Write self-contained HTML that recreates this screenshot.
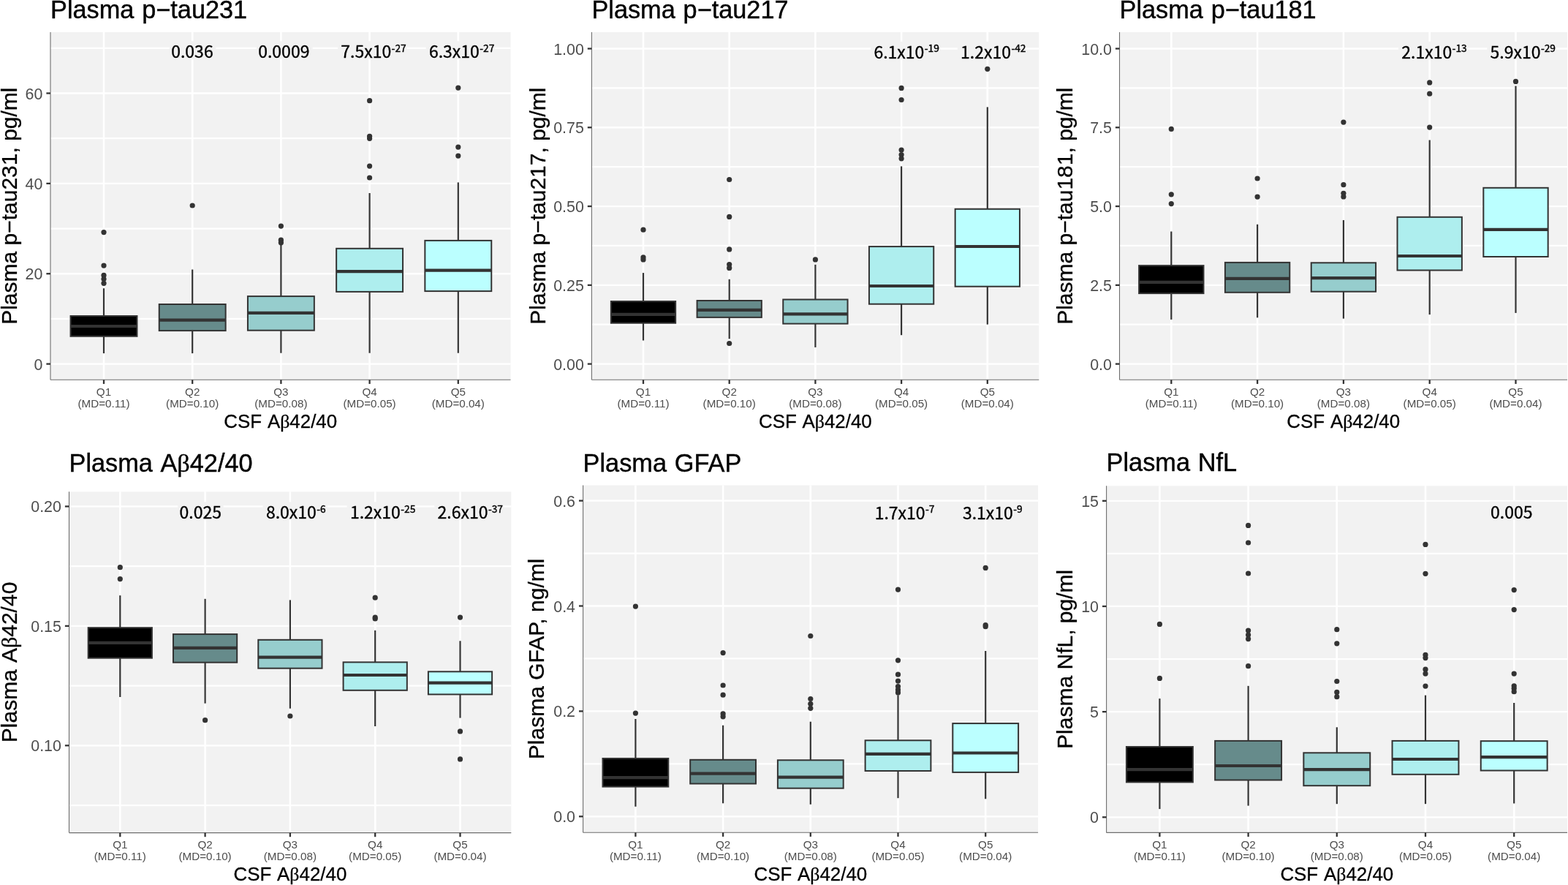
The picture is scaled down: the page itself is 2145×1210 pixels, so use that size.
<!DOCTYPE html>
<html><head><meta charset="utf-8"><title>Plasma biomarkers by CSF Abeta42/40 quintile</title>
<style>html,body{margin:0;padding:0;background:#fff;overflow:hidden;}svg{display:block;}</style>
</head><body>
<svg width="2145" height="1210" viewBox="0 0 2145 1210">
<rect x="0" y="0" width="2145" height="1210" fill="#FFFFFF"/>
<rect x="69" y="44" width="629.5" height="475.3" fill="#F2F2F2"/>
<line x1="69" x2="698.5" y1="435.92" y2="435.92" stroke="#FFFFFF" stroke-width="2.2"/>
<line x1="69" x2="698.5" y1="312.55" y2="312.55" stroke="#FFFFFF" stroke-width="2.2"/>
<line x1="69" x2="698.5" y1="189.18" y2="189.18" stroke="#FFFFFF" stroke-width="2.2"/>
<line x1="69" x2="698.5" y1="65.82" y2="65.82" stroke="#FFFFFF" stroke-width="2.2"/>
<line x1="69" x2="698.5" y1="497.6" y2="497.6" stroke="#FFFFFF" stroke-width="2.3"/>
<line x1="69" x2="698.5" y1="374.23" y2="374.23" stroke="#FFFFFF" stroke-width="2.3"/>
<line x1="69" x2="698.5" y1="250.87" y2="250.87" stroke="#FFFFFF" stroke-width="2.3"/>
<line x1="69" x2="698.5" y1="127.5" y2="127.5" stroke="#FFFFFF" stroke-width="2.3"/>
<line x1="142" x2="142" y1="44" y2="519.3" stroke="#FFFFFF" stroke-width="2.6"/>
<line x1="263.2" x2="263.2" y1="44" y2="519.3" stroke="#FFFFFF" stroke-width="2.6"/>
<line x1="384.4" x2="384.4" y1="44" y2="519.3" stroke="#FFFFFF" stroke-width="2.6"/>
<line x1="505.6" x2="505.6" y1="44" y2="519.3" stroke="#FFFFFF" stroke-width="2.6"/>
<line x1="626.8" x2="626.8" y1="44" y2="519.3" stroke="#FFFFFF" stroke-width="2.6"/>
<line x1="142" x2="142" y1="394.2" y2="432" stroke="#333333" stroke-width="2.2"/>
<line x1="142" x2="142" y1="459.8" y2="483.1" stroke="#333333" stroke-width="2.2"/>
<rect x="96.55" y="432" width="90.9" height="27.8" fill="#000000" stroke="#333333" stroke-width="2.0"/>
<line x1="96.55" x2="187.45" y1="446" y2="446" stroke="#333333" stroke-width="4.2"/>
<circle cx="142" cy="317.6" r="3.6" fill="#333333"/>
<circle cx="142" cy="363.1" r="3.6" fill="#333333"/>
<circle cx="142" cy="376.4" r="3.6" fill="#333333"/>
<circle cx="142" cy="381.5" r="3.6" fill="#333333"/>
<circle cx="142" cy="387.3" r="3.6" fill="#333333"/>
<line x1="263.2" x2="263.2" y1="368.5" y2="416" stroke="#333333" stroke-width="2.2"/>
<line x1="263.2" x2="263.2" y1="452.1" y2="483.1" stroke="#333333" stroke-width="2.2"/>
<rect x="217.75" y="416" width="90.9" height="36.1" fill="#668B8B" stroke="#333333" stroke-width="2.0"/>
<line x1="217.75" x2="308.65" y1="437.7" y2="437.7" stroke="#333333" stroke-width="4.2"/>
<circle cx="263.2" cy="281" r="3.6" fill="#333333"/>
<line x1="384.4" x2="384.4" y1="334.5" y2="405.1" stroke="#333333" stroke-width="2.2"/>
<line x1="384.4" x2="384.4" y1="451.7" y2="482.7" stroke="#333333" stroke-width="2.2"/>
<rect x="338.95" y="405.1" width="90.9" height="46.6" fill="#96CDCD" stroke="#333333" stroke-width="2.0"/>
<line x1="338.95" x2="429.85" y1="427.9" y2="427.9" stroke="#333333" stroke-width="4.2"/>
<circle cx="384.4" cy="309.1" r="3.6" fill="#333333"/>
<circle cx="384.4" cy="328.2" r="3.6" fill="#333333"/>
<circle cx="384.4" cy="331.8" r="3.6" fill="#333333"/>
<line x1="505.6" x2="505.6" y1="264" y2="339.8" stroke="#333333" stroke-width="2.2"/>
<line x1="505.6" x2="505.6" y1="398.9" y2="482.7" stroke="#333333" stroke-width="2.2"/>
<rect x="460.15" y="339.8" width="90.9" height="59.1" fill="#AEEEEE" stroke="#333333" stroke-width="2.0"/>
<line x1="460.15" x2="551.05" y1="371.1" y2="371.1" stroke="#333333" stroke-width="4.2"/>
<circle cx="505.6" cy="137.7" r="3.6" fill="#333333"/>
<circle cx="505.6" cy="186.3" r="3.6" fill="#333333"/>
<circle cx="505.6" cy="189.3" r="3.6" fill="#333333"/>
<circle cx="505.6" cy="227.1" r="3.6" fill="#333333"/>
<circle cx="505.6" cy="243" r="3.6" fill="#333333"/>
<line x1="626.8" x2="626.8" y1="249.4" y2="328.9" stroke="#333333" stroke-width="2.2"/>
<line x1="626.8" x2="626.8" y1="398.1" y2="482.7" stroke="#333333" stroke-width="2.2"/>
<rect x="581.35" y="328.9" width="90.9" height="69.2" fill="#BBFFFF" stroke="#333333" stroke-width="2.0"/>
<line x1="581.35" x2="672.25" y1="369.6" y2="369.6" stroke="#333333" stroke-width="4.2"/>
<circle cx="626.8" cy="120.1" r="3.6" fill="#333333"/>
<circle cx="626.8" cy="201.1" r="3.6" fill="#333333"/>
<circle cx="626.8" cy="213.1" r="3.6" fill="#333333"/>
<line x1="69" x2="69" y1="44" y2="519.3" stroke="#6E6E6E" stroke-width="1.1"/>
<line x1="69" x2="698.5" y1="519.3" y2="519.3" stroke="#6E6E6E" stroke-width="1.1"/>
<line x1="63.4" x2="69" y1="497.6" y2="497.6" stroke="#333333" stroke-width="2.3"/>
<line x1="63.4" x2="69" y1="374.23" y2="374.23" stroke="#333333" stroke-width="2.3"/>
<line x1="63.4" x2="69" y1="250.87" y2="250.87" stroke="#333333" stroke-width="2.3"/>
<line x1="63.4" x2="69" y1="127.5" y2="127.5" stroke="#333333" stroke-width="2.3"/>
<line x1="142" x2="142" y1="519.3" y2="524.9" stroke="#333333" stroke-width="2.3"/>
<line x1="263.2" x2="263.2" y1="519.3" y2="524.9" stroke="#333333" stroke-width="2.3"/>
<line x1="384.4" x2="384.4" y1="519.3" y2="524.9" stroke="#333333" stroke-width="2.3"/>
<line x1="505.6" x2="505.6" y1="519.3" y2="524.9" stroke="#333333" stroke-width="2.3"/>
<line x1="626.8" x2="626.8" y1="519.3" y2="524.9" stroke="#333333" stroke-width="2.3"/>
<text x="58.4" y="505.6" text-anchor="end" font-family="'Liberation Sans', Arial, Helvetica, sans-serif" font-size="21.4" fill="#4D4D4D">0</text>
<text x="58.4" y="382.23" text-anchor="end" font-family="'Liberation Sans', Arial, Helvetica, sans-serif" font-size="21.4" fill="#4D4D4D">20</text>
<text x="58.4" y="258.87" text-anchor="end" font-family="'Liberation Sans', Arial, Helvetica, sans-serif" font-size="21.4" fill="#4D4D4D">40</text>
<text x="58.4" y="135.5" text-anchor="end" font-family="'Liberation Sans', Arial, Helvetica, sans-serif" font-size="21.4" fill="#4D4D4D">60</text>
<text x="142" y="540.9" text-anchor="middle" font-family="'Liberation Sans', Arial, Helvetica, sans-serif" font-size="15.2" fill="#4D4D4D">Q1</text>
<text x="142" y="556.9" text-anchor="middle" font-family="'Liberation Sans', Arial, Helvetica, sans-serif" font-size="15.2" fill="#4D4D4D">(MD=0.11)</text>
<text x="263.2" y="540.9" text-anchor="middle" font-family="'Liberation Sans', Arial, Helvetica, sans-serif" font-size="15.2" fill="#4D4D4D">Q2</text>
<text x="263.2" y="556.9" text-anchor="middle" font-family="'Liberation Sans', Arial, Helvetica, sans-serif" font-size="15.2" fill="#4D4D4D">(MD=0.10)</text>
<text x="384.4" y="540.9" text-anchor="middle" font-family="'Liberation Sans', Arial, Helvetica, sans-serif" font-size="15.2" fill="#4D4D4D">Q3</text>
<text x="384.4" y="556.9" text-anchor="middle" font-family="'Liberation Sans', Arial, Helvetica, sans-serif" font-size="15.2" fill="#4D4D4D">(MD=0.08)</text>
<text x="505.6" y="540.9" text-anchor="middle" font-family="'Liberation Sans', Arial, Helvetica, sans-serif" font-size="15.2" fill="#4D4D4D">Q4</text>
<text x="505.6" y="556.9" text-anchor="middle" font-family="'Liberation Sans', Arial, Helvetica, sans-serif" font-size="15.2" fill="#4D4D4D">(MD=0.05)</text>
<text x="626.8" y="540.9" text-anchor="middle" font-family="'Liberation Sans', Arial, Helvetica, sans-serif" font-size="15.2" fill="#4D4D4D">Q5</text>
<text x="626.8" y="556.9" text-anchor="middle" font-family="'Liberation Sans', Arial, Helvetica, sans-serif" font-size="15.2" fill="#4D4D4D">(MD=0.04)</text>
<text x="69" y="25.4" font-family="'Liberation Sans', Arial, Helvetica, sans-serif" font-size="34.3" word-spacing="1.3" fill="#000" stroke="#000" stroke-width="0.4">Plasma p−tau231</text>
<text x="383.75" y="584.8" text-anchor="middle" font-family="'Liberation Sans', Arial, Helvetica, sans-serif" font-size="25.9" fill="#000" stroke="#000" stroke-width="0.3">CSF <tspan dx="2">A</tspan><tspan font-family="'Liberation Serif', serif">β</tspan>42/40</text>
<text transform="translate(22.5,281.65) rotate(-90)" x="0" y="0" text-anchor="middle" font-family="'Liberation Sans', Arial, Helvetica, sans-serif" font-size="30.0" fill="#000" stroke="#000" stroke-width="0.3">Plasma p−tau231, pg/ml</text>
<rect x="231.9" y="56.3" width="63.4" height="24.5" fill="#F2F2F2"/>
<text x="234.2" y="79.3" font-family="'Noto Sans CJK JP', 'Liberation Sans', sans-serif" font-weight="400" font-size="23.0" fill="#000" stroke="#000" stroke-width="0.35">0.036</text>
<rect x="350.9" y="56.3" width="76.7" height="24.5" fill="#F2F2F2"/>
<text x="353.2" y="79.3" font-family="'Noto Sans CJK JP', 'Liberation Sans', sans-serif" font-weight="400" font-size="23.0" fill="#000" stroke="#000" stroke-width="0.35">0.0009</text>
<rect x="462" y="56.3" width="94.4" height="24.5" fill="#F2F2F2"/>
<text x="466.3" y="79.3" font-family="'Noto Sans CJK JP', 'Liberation Sans', sans-serif" font-weight="400" font-size="23.0" fill="#000" stroke="#000" stroke-width="0.35">7.5x10<tspan dx="0.4" dy="-8.6" font-size="13.8">-27</tspan></text>
<rect x="582.6" y="56.3" width="93.9" height="24.5" fill="#F2F2F2"/>
<text x="586.9" y="79.3" font-family="'Noto Sans CJK JP', 'Liberation Sans', sans-serif" font-weight="400" font-size="23.0" fill="#000" stroke="#000" stroke-width="0.35">6.3x10<tspan dx="0.4" dy="-8.6" font-size="13.8">-27</tspan></text>
<rect x="809.4" y="44" width="611.9" height="475.3" fill="#F2F2F2"/>
<line x1="809.4" x2="1421.3" y1="443.71" y2="443.71" stroke="#FFFFFF" stroke-width="2.2"/>
<line x1="809.4" x2="1421.3" y1="335.94" y2="335.94" stroke="#FFFFFF" stroke-width="2.2"/>
<line x1="809.4" x2="1421.3" y1="228.16" y2="228.16" stroke="#FFFFFF" stroke-width="2.2"/>
<line x1="809.4" x2="1421.3" y1="120.39" y2="120.39" stroke="#FFFFFF" stroke-width="2.2"/>
<line x1="809.4" x2="1421.3" y1="497.6" y2="497.6" stroke="#FFFFFF" stroke-width="2.3"/>
<line x1="809.4" x2="1421.3" y1="389.83" y2="389.83" stroke="#FFFFFF" stroke-width="2.3"/>
<line x1="809.4" x2="1421.3" y1="282.05" y2="282.05" stroke="#FFFFFF" stroke-width="2.3"/>
<line x1="809.4" x2="1421.3" y1="174.27" y2="174.27" stroke="#FFFFFF" stroke-width="2.3"/>
<line x1="809.4" x2="1421.3" y1="66.5" y2="66.5" stroke="#FFFFFF" stroke-width="2.3"/>
<line x1="880" x2="880" y1="44" y2="519.3" stroke="#FFFFFF" stroke-width="2.6"/>
<line x1="997.7" x2="997.7" y1="44" y2="519.3" stroke="#FFFFFF" stroke-width="2.6"/>
<line x1="1115.4" x2="1115.4" y1="44" y2="519.3" stroke="#FFFFFF" stroke-width="2.6"/>
<line x1="1233.1" x2="1233.1" y1="44" y2="519.3" stroke="#FFFFFF" stroke-width="2.6"/>
<line x1="1350.8" x2="1350.8" y1="44" y2="519.3" stroke="#FFFFFF" stroke-width="2.6"/>
<line x1="880" x2="880" y1="373.1" y2="412" stroke="#333333" stroke-width="2.2"/>
<line x1="880" x2="880" y1="441.7" y2="465.5" stroke="#333333" stroke-width="2.2"/>
<rect x="835.86" y="412" width="88.28" height="29.7" fill="#000000" stroke="#333333" stroke-width="2.0"/>
<line x1="835.86" x2="924.14" y1="429.8" y2="429.8" stroke="#333333" stroke-width="4.2"/>
<circle cx="880" cy="314.2" r="3.6" fill="#333333"/>
<circle cx="880" cy="351.8" r="3.6" fill="#333333"/>
<circle cx="880" cy="354.9" r="3.6" fill="#333333"/>
<line x1="997.7" x2="997.7" y1="381.8" y2="411" stroke="#333333" stroke-width="2.2"/>
<line x1="997.7" x2="997.7" y1="433.9" y2="463.3" stroke="#333333" stroke-width="2.2"/>
<rect x="953.56" y="411" width="88.28" height="22.9" fill="#668B8B" stroke="#333333" stroke-width="2.0"/>
<line x1="953.56" x2="1041.84" y1="423.9" y2="423.9" stroke="#333333" stroke-width="4.2"/>
<circle cx="997.7" cy="245.5" r="3.6" fill="#333333"/>
<circle cx="997.7" cy="296.4" r="3.6" fill="#333333"/>
<circle cx="997.7" cy="340.9" r="3.6" fill="#333333"/>
<circle cx="997.7" cy="361.5" r="3.6" fill="#333333"/>
<circle cx="997.7" cy="366.4" r="3.6" fill="#333333"/>
<circle cx="997.7" cy="469.5" r="3.6" fill="#333333"/>
<line x1="1115.4" x2="1115.4" y1="361.8" y2="409.5" stroke="#333333" stroke-width="2.2"/>
<line x1="1115.4" x2="1115.4" y1="442.6" y2="474.9" stroke="#333333" stroke-width="2.2"/>
<rect x="1071.26" y="409.5" width="88.28" height="33.1" fill="#96CDCD" stroke="#333333" stroke-width="2.0"/>
<line x1="1071.26" x2="1159.54" y1="429.3" y2="429.3" stroke="#333333" stroke-width="4.2"/>
<circle cx="1115.4" cy="354.9" r="3.6" fill="#333333"/>
<line x1="1233.1" x2="1233.1" y1="227.4" y2="337.1" stroke="#333333" stroke-width="2.2"/>
<line x1="1233.1" x2="1233.1" y1="415.7" y2="458.2" stroke="#333333" stroke-width="2.2"/>
<rect x="1188.96" y="337.1" width="88.28" height="78.6" fill="#AEEEEE" stroke="#333333" stroke-width="2.0"/>
<line x1="1188.96" x2="1277.24" y1="391" y2="391" stroke="#333333" stroke-width="4.2"/>
<circle cx="1233.1" cy="120.4" r="3.6" fill="#333333"/>
<circle cx="1233.1" cy="136.5" r="3.6" fill="#333333"/>
<circle cx="1233.1" cy="205" r="3.6" fill="#333333"/>
<circle cx="1233.1" cy="211.6" r="3.6" fill="#333333"/>
<circle cx="1233.1" cy="216.8" r="3.6" fill="#333333"/>
<line x1="1350.8" x2="1350.8" y1="146.4" y2="285.8" stroke="#333333" stroke-width="2.2"/>
<line x1="1350.8" x2="1350.8" y1="391.7" y2="443.6" stroke="#333333" stroke-width="2.2"/>
<rect x="1306.66" y="285.8" width="88.28" height="105.9" fill="#BBFFFF" stroke="#333333" stroke-width="2.0"/>
<line x1="1306.66" x2="1394.94" y1="337" y2="337" stroke="#333333" stroke-width="4.2"/>
<circle cx="1350.8" cy="94.3" r="3.6" fill="#333333"/>
<line x1="809.4" x2="809.4" y1="44" y2="519.3" stroke="#6E6E6E" stroke-width="1.1"/>
<line x1="809.4" x2="1421.3" y1="519.3" y2="519.3" stroke="#6E6E6E" stroke-width="1.1"/>
<line x1="803.8" x2="809.4" y1="497.6" y2="497.6" stroke="#333333" stroke-width="2.3"/>
<line x1="803.8" x2="809.4" y1="389.83" y2="389.83" stroke="#333333" stroke-width="2.3"/>
<line x1="803.8" x2="809.4" y1="282.05" y2="282.05" stroke="#333333" stroke-width="2.3"/>
<line x1="803.8" x2="809.4" y1="174.27" y2="174.27" stroke="#333333" stroke-width="2.3"/>
<line x1="803.8" x2="809.4" y1="66.5" y2="66.5" stroke="#333333" stroke-width="2.3"/>
<line x1="880" x2="880" y1="519.3" y2="524.9" stroke="#333333" stroke-width="2.3"/>
<line x1="997.7" x2="997.7" y1="519.3" y2="524.9" stroke="#333333" stroke-width="2.3"/>
<line x1="1115.4" x2="1115.4" y1="519.3" y2="524.9" stroke="#333333" stroke-width="2.3"/>
<line x1="1233.1" x2="1233.1" y1="519.3" y2="524.9" stroke="#333333" stroke-width="2.3"/>
<line x1="1350.8" x2="1350.8" y1="519.3" y2="524.9" stroke="#333333" stroke-width="2.3"/>
<text x="798.8" y="505.6" text-anchor="end" font-family="'Liberation Sans', Arial, Helvetica, sans-serif" font-size="21.4" fill="#4D4D4D">0.00</text>
<text x="798.8" y="397.83" text-anchor="end" font-family="'Liberation Sans', Arial, Helvetica, sans-serif" font-size="21.4" fill="#4D4D4D">0.25</text>
<text x="798.8" y="290.05" text-anchor="end" font-family="'Liberation Sans', Arial, Helvetica, sans-serif" font-size="21.4" fill="#4D4D4D">0.50</text>
<text x="798.8" y="182.27" text-anchor="end" font-family="'Liberation Sans', Arial, Helvetica, sans-serif" font-size="21.4" fill="#4D4D4D">0.75</text>
<text x="798.8" y="74.5" text-anchor="end" font-family="'Liberation Sans', Arial, Helvetica, sans-serif" font-size="21.4" fill="#4D4D4D">1.00</text>
<text x="880" y="540.9" text-anchor="middle" font-family="'Liberation Sans', Arial, Helvetica, sans-serif" font-size="15.2" fill="#4D4D4D">Q1</text>
<text x="880" y="556.9" text-anchor="middle" font-family="'Liberation Sans', Arial, Helvetica, sans-serif" font-size="15.2" fill="#4D4D4D">(MD=0.11)</text>
<text x="997.7" y="540.9" text-anchor="middle" font-family="'Liberation Sans', Arial, Helvetica, sans-serif" font-size="15.2" fill="#4D4D4D">Q2</text>
<text x="997.7" y="556.9" text-anchor="middle" font-family="'Liberation Sans', Arial, Helvetica, sans-serif" font-size="15.2" fill="#4D4D4D">(MD=0.10)</text>
<text x="1115.4" y="540.9" text-anchor="middle" font-family="'Liberation Sans', Arial, Helvetica, sans-serif" font-size="15.2" fill="#4D4D4D">Q3</text>
<text x="1115.4" y="556.9" text-anchor="middle" font-family="'Liberation Sans', Arial, Helvetica, sans-serif" font-size="15.2" fill="#4D4D4D">(MD=0.08)</text>
<text x="1233.1" y="540.9" text-anchor="middle" font-family="'Liberation Sans', Arial, Helvetica, sans-serif" font-size="15.2" fill="#4D4D4D">Q4</text>
<text x="1233.1" y="556.9" text-anchor="middle" font-family="'Liberation Sans', Arial, Helvetica, sans-serif" font-size="15.2" fill="#4D4D4D">(MD=0.05)</text>
<text x="1350.8" y="540.9" text-anchor="middle" font-family="'Liberation Sans', Arial, Helvetica, sans-serif" font-size="15.2" fill="#4D4D4D">Q5</text>
<text x="1350.8" y="556.9" text-anchor="middle" font-family="'Liberation Sans', Arial, Helvetica, sans-serif" font-size="15.2" fill="#4D4D4D">(MD=0.04)</text>
<text x="809.4" y="25.4" font-family="'Liberation Sans', Arial, Helvetica, sans-serif" font-size="34.3" word-spacing="1.3" fill="#000" stroke="#000" stroke-width="0.4">Plasma p−tau217</text>
<text x="1115.35" y="584.8" text-anchor="middle" font-family="'Liberation Sans', Arial, Helvetica, sans-serif" font-size="25.9" fill="#000" stroke="#000" stroke-width="0.3">CSF <tspan dx="2">A</tspan><tspan font-family="'Liberation Serif', serif">β</tspan>42/40</text>
<text transform="translate(745.7,281.65) rotate(-90)" x="0" y="0" text-anchor="middle" font-family="'Liberation Sans', Arial, Helvetica, sans-serif" font-size="30.0" fill="#000" stroke="#000" stroke-width="0.3">Plasma p−tau217, pg/ml</text>
<rect x="1191.1" y="56.8" width="95.1" height="24.5" fill="#F2F2F2"/>
<text x="1195.4" y="79.8" font-family="'Noto Sans CJK JP', 'Liberation Sans', sans-serif" font-weight="400" font-size="23.0" fill="#000" stroke="#000" stroke-width="0.35">6.1x10<tspan dx="0.4" dy="-8.6" font-size="13.8">-19</tspan></text>
<rect x="1309.8" y="56.8" width="93.2" height="24.5" fill="#F2F2F2"/>
<text x="1314.1" y="79.8" font-family="'Noto Sans CJK JP', 'Liberation Sans', sans-serif" font-weight="400" font-size="23.0" fill="#000" stroke="#000" stroke-width="0.35">1.2x10<tspan dx="0.4" dy="-8.6" font-size="13.8">-42</tspan></text>
<rect x="1531.5" y="44" width="612.5" height="475.3" fill="#F2F2F2"/>
<line x1="1531.5" x2="2144" y1="443.71" y2="443.71" stroke="#FFFFFF" stroke-width="2.2"/>
<line x1="1531.5" x2="2144" y1="335.94" y2="335.94" stroke="#FFFFFF" stroke-width="2.2"/>
<line x1="1531.5" x2="2144" y1="228.16" y2="228.16" stroke="#FFFFFF" stroke-width="2.2"/>
<line x1="1531.5" x2="2144" y1="120.39" y2="120.39" stroke="#FFFFFF" stroke-width="2.2"/>
<line x1="1531.5" x2="2144" y1="497.6" y2="497.6" stroke="#FFFFFF" stroke-width="2.3"/>
<line x1="1531.5" x2="2144" y1="389.83" y2="389.83" stroke="#FFFFFF" stroke-width="2.3"/>
<line x1="1531.5" x2="2144" y1="282.05" y2="282.05" stroke="#FFFFFF" stroke-width="2.3"/>
<line x1="1531.5" x2="2144" y1="174.28" y2="174.28" stroke="#FFFFFF" stroke-width="2.3"/>
<line x1="1531.5" x2="2144" y1="66.5" y2="66.5" stroke="#FFFFFF" stroke-width="2.3"/>
<line x1="1602.3" x2="1602.3" y1="44" y2="519.3" stroke="#FFFFFF" stroke-width="2.6"/>
<line x1="1720.1" x2="1720.1" y1="44" y2="519.3" stroke="#FFFFFF" stroke-width="2.6"/>
<line x1="1837.9" x2="1837.9" y1="44" y2="519.3" stroke="#FFFFFF" stroke-width="2.6"/>
<line x1="1955.7" x2="1955.7" y1="44" y2="519.3" stroke="#FFFFFF" stroke-width="2.6"/>
<line x1="2073.5" x2="2073.5" y1="44" y2="519.3" stroke="#FFFFFF" stroke-width="2.6"/>
<line x1="1602.3" x2="1602.3" y1="316.5" y2="363.1" stroke="#333333" stroke-width="2.2"/>
<line x1="1602.3" x2="1602.3" y1="401.1" y2="436.9" stroke="#333333" stroke-width="2.2"/>
<rect x="1558.12" y="363.1" width="88.35" height="38" fill="#000000" stroke="#333333" stroke-width="2.0"/>
<line x1="1558.12" x2="1646.47" y1="385.9" y2="385.9" stroke="#333333" stroke-width="4.2"/>
<circle cx="1602.3" cy="176.4" r="3.6" fill="#333333"/>
<circle cx="1602.3" cy="265.8" r="3.6" fill="#333333"/>
<circle cx="1602.3" cy="278.6" r="3.6" fill="#333333"/>
<line x1="1720.1" x2="1720.1" y1="306.8" y2="358.9" stroke="#333333" stroke-width="2.2"/>
<line x1="1720.1" x2="1720.1" y1="399.8" y2="434.3" stroke="#333333" stroke-width="2.2"/>
<rect x="1675.92" y="358.9" width="88.35" height="40.9" fill="#668B8B" stroke="#333333" stroke-width="2.0"/>
<line x1="1675.92" x2="1764.27" y1="380.9" y2="380.9" stroke="#333333" stroke-width="4.2"/>
<circle cx="1720.1" cy="244" r="3.6" fill="#333333"/>
<circle cx="1720.1" cy="269.1" r="3.6" fill="#333333"/>
<line x1="1837.9" x2="1837.9" y1="301" y2="359.3" stroke="#333333" stroke-width="2.2"/>
<line x1="1837.9" x2="1837.9" y1="398.7" y2="435.6" stroke="#333333" stroke-width="2.2"/>
<rect x="1793.72" y="359.3" width="88.35" height="39.4" fill="#96CDCD" stroke="#333333" stroke-width="2.0"/>
<line x1="1793.72" x2="1882.07" y1="380.1" y2="380.1" stroke="#333333" stroke-width="4.2"/>
<circle cx="1837.9" cy="167.1" r="3.6" fill="#333333"/>
<circle cx="1837.9" cy="252.7" r="3.6" fill="#333333"/>
<circle cx="1837.9" cy="264.3" r="3.6" fill="#333333"/>
<circle cx="1837.9" cy="268.9" r="3.6" fill="#333333"/>
<line x1="1955.7" x2="1955.7" y1="191.5" y2="296.8" stroke="#333333" stroke-width="2.2"/>
<line x1="1955.7" x2="1955.7" y1="369.5" y2="430.1" stroke="#333333" stroke-width="2.2"/>
<rect x="1911.52" y="296.8" width="88.35" height="72.7" fill="#AEEEEE" stroke="#333333" stroke-width="2.0"/>
<line x1="1911.52" x2="1999.87" y1="350" y2="350" stroke="#333333" stroke-width="4.2"/>
<circle cx="1955.7" cy="112.9" r="3.6" fill="#333333"/>
<circle cx="1955.7" cy="128.2" r="3.6" fill="#333333"/>
<circle cx="1955.7" cy="174.1" r="3.6" fill="#333333"/>
<line x1="2073.5" x2="2073.5" y1="117.5" y2="256.8" stroke="#333333" stroke-width="2.2"/>
<line x1="2073.5" x2="2073.5" y1="351" y2="427.9" stroke="#333333" stroke-width="2.2"/>
<rect x="2029.33" y="256.8" width="88.35" height="94.2" fill="#BBFFFF" stroke="#333333" stroke-width="2.0"/>
<line x1="2029.33" x2="2117.68" y1="313.8" y2="313.8" stroke="#333333" stroke-width="4.2"/>
<circle cx="2073.5" cy="111.4" r="3.6" fill="#333333"/>
<line x1="1531.5" x2="1531.5" y1="44" y2="519.3" stroke="#6E6E6E" stroke-width="1.1"/>
<line x1="1531.5" x2="2144" y1="519.3" y2="519.3" stroke="#6E6E6E" stroke-width="1.1"/>
<line x1="1525.9" x2="1531.5" y1="497.6" y2="497.6" stroke="#333333" stroke-width="2.3"/>
<line x1="1525.9" x2="1531.5" y1="389.83" y2="389.83" stroke="#333333" stroke-width="2.3"/>
<line x1="1525.9" x2="1531.5" y1="282.05" y2="282.05" stroke="#333333" stroke-width="2.3"/>
<line x1="1525.9" x2="1531.5" y1="174.28" y2="174.28" stroke="#333333" stroke-width="2.3"/>
<line x1="1525.9" x2="1531.5" y1="66.5" y2="66.5" stroke="#333333" stroke-width="2.3"/>
<line x1="1602.3" x2="1602.3" y1="519.3" y2="524.9" stroke="#333333" stroke-width="2.3"/>
<line x1="1720.1" x2="1720.1" y1="519.3" y2="524.9" stroke="#333333" stroke-width="2.3"/>
<line x1="1837.9" x2="1837.9" y1="519.3" y2="524.9" stroke="#333333" stroke-width="2.3"/>
<line x1="1955.7" x2="1955.7" y1="519.3" y2="524.9" stroke="#333333" stroke-width="2.3"/>
<line x1="2073.5" x2="2073.5" y1="519.3" y2="524.9" stroke="#333333" stroke-width="2.3"/>
<text x="1520.9" y="505.6" text-anchor="end" font-family="'Liberation Sans', Arial, Helvetica, sans-serif" font-size="21.4" fill="#4D4D4D">0.0</text>
<text x="1520.9" y="397.83" text-anchor="end" font-family="'Liberation Sans', Arial, Helvetica, sans-serif" font-size="21.4" fill="#4D4D4D">2.5</text>
<text x="1520.9" y="290.05" text-anchor="end" font-family="'Liberation Sans', Arial, Helvetica, sans-serif" font-size="21.4" fill="#4D4D4D">5.0</text>
<text x="1520.9" y="182.28" text-anchor="end" font-family="'Liberation Sans', Arial, Helvetica, sans-serif" font-size="21.4" fill="#4D4D4D">7.5</text>
<text x="1520.9" y="74.5" text-anchor="end" font-family="'Liberation Sans', Arial, Helvetica, sans-serif" font-size="21.4" fill="#4D4D4D">10.0</text>
<text x="1602.3" y="540.9" text-anchor="middle" font-family="'Liberation Sans', Arial, Helvetica, sans-serif" font-size="15.2" fill="#4D4D4D">Q1</text>
<text x="1602.3" y="556.9" text-anchor="middle" font-family="'Liberation Sans', Arial, Helvetica, sans-serif" font-size="15.2" fill="#4D4D4D">(MD=0.11)</text>
<text x="1720.1" y="540.9" text-anchor="middle" font-family="'Liberation Sans', Arial, Helvetica, sans-serif" font-size="15.2" fill="#4D4D4D">Q2</text>
<text x="1720.1" y="556.9" text-anchor="middle" font-family="'Liberation Sans', Arial, Helvetica, sans-serif" font-size="15.2" fill="#4D4D4D">(MD=0.10)</text>
<text x="1837.9" y="540.9" text-anchor="middle" font-family="'Liberation Sans', Arial, Helvetica, sans-serif" font-size="15.2" fill="#4D4D4D">Q3</text>
<text x="1837.9" y="556.9" text-anchor="middle" font-family="'Liberation Sans', Arial, Helvetica, sans-serif" font-size="15.2" fill="#4D4D4D">(MD=0.08)</text>
<text x="1955.7" y="540.9" text-anchor="middle" font-family="'Liberation Sans', Arial, Helvetica, sans-serif" font-size="15.2" fill="#4D4D4D">Q4</text>
<text x="1955.7" y="556.9" text-anchor="middle" font-family="'Liberation Sans', Arial, Helvetica, sans-serif" font-size="15.2" fill="#4D4D4D">(MD=0.05)</text>
<text x="2073.5" y="540.9" text-anchor="middle" font-family="'Liberation Sans', Arial, Helvetica, sans-serif" font-size="15.2" fill="#4D4D4D">Q5</text>
<text x="2073.5" y="556.9" text-anchor="middle" font-family="'Liberation Sans', Arial, Helvetica, sans-serif" font-size="15.2" fill="#4D4D4D">(MD=0.04)</text>
<text x="1531.5" y="25.4" font-family="'Liberation Sans', Arial, Helvetica, sans-serif" font-size="34.3" word-spacing="1.3" fill="#000" stroke="#000" stroke-width="0.4">Plasma p−tau181</text>
<text x="1837.75" y="584.8" text-anchor="middle" font-family="'Liberation Sans', Arial, Helvetica, sans-serif" font-size="25.9" fill="#000" stroke="#000" stroke-width="0.3">CSF <tspan dx="2">A</tspan><tspan font-family="'Liberation Serif', serif">β</tspan>42/40</text>
<text transform="translate(1467.2,281.65) rotate(-90)" x="0" y="0" text-anchor="middle" font-family="'Liberation Sans', Arial, Helvetica, sans-serif" font-size="30.0" fill="#000" stroke="#000" stroke-width="0.3">Plasma p−tau181, pg/ml</text>
<rect x="1913" y="56.8" width="94.3" height="24.5" fill="#F2F2F2"/>
<text x="1917.3" y="79.8" font-family="'Noto Sans CJK JP', 'Liberation Sans', sans-serif" font-weight="400" font-size="23.0" fill="#000" stroke="#000" stroke-width="0.35">2.1x10<tspan dx="0.4" dy="-8.6" font-size="13.8">-13</tspan></text>
<rect x="2034.3" y="56.8" width="94.3" height="24.5" fill="#F2F2F2"/>
<text x="2038.6" y="79.8" font-family="'Noto Sans CJK JP', 'Liberation Sans', sans-serif" font-weight="400" font-size="23.0" fill="#000" stroke="#000" stroke-width="0.35">5.9x10<tspan dx="0.4" dy="-8.6" font-size="13.8">-29</tspan></text>
<rect x="94.5" y="672.3" width="604.8" height="466.3" fill="#F2F2F2"/>
<line x1="94.5" x2="699.3" y1="1101.03" y2="1101.03" stroke="#FFFFFF" stroke-width="2.2"/>
<line x1="94.5" x2="699.3" y1="937.58" y2="937.58" stroke="#FFFFFF" stroke-width="2.2"/>
<line x1="94.5" x2="699.3" y1="774.12" y2="774.12" stroke="#FFFFFF" stroke-width="2.2"/>
<line x1="94.5" x2="699.3" y1="1019.3" y2="1019.3" stroke="#FFFFFF" stroke-width="2.3"/>
<line x1="94.5" x2="699.3" y1="855.85" y2="855.85" stroke="#FFFFFF" stroke-width="2.3"/>
<line x1="94.5" x2="699.3" y1="692.4" y2="692.4" stroke="#FFFFFF" stroke-width="2.3"/>
<line x1="164.3" x2="164.3" y1="672.3" y2="1138.6" stroke="#FFFFFF" stroke-width="2.6"/>
<line x1="280.6" x2="280.6" y1="672.3" y2="1138.6" stroke="#FFFFFF" stroke-width="2.6"/>
<line x1="396.9" x2="396.9" y1="672.3" y2="1138.6" stroke="#FFFFFF" stroke-width="2.6"/>
<line x1="513.2" x2="513.2" y1="672.3" y2="1138.6" stroke="#FFFFFF" stroke-width="2.6"/>
<line x1="629.5" x2="629.5" y1="672.3" y2="1138.6" stroke="#FFFFFF" stroke-width="2.6"/>
<line x1="164.3" x2="164.3" y1="814.1" y2="858.2" stroke="#333333" stroke-width="2.2"/>
<line x1="164.3" x2="164.3" y1="899.7" y2="953" stroke="#333333" stroke-width="2.2"/>
<rect x="120.69" y="858.2" width="87.22" height="41.5" fill="#000000" stroke="#333333" stroke-width="2.0"/>
<line x1="120.69" x2="207.91" y1="878.8" y2="878.8" stroke="#333333" stroke-width="4.2"/>
<circle cx="164.3" cy="775.7" r="3.6" fill="#333333"/>
<circle cx="164.3" cy="791.6" r="3.6" fill="#333333"/>
<line x1="280.6" x2="280.6" y1="818.8" y2="867.1" stroke="#333333" stroke-width="2.2"/>
<line x1="280.6" x2="280.6" y1="905.7" y2="961.7" stroke="#333333" stroke-width="2.2"/>
<rect x="236.99" y="867.1" width="87.22" height="38.6" fill="#668B8B" stroke="#333333" stroke-width="2.0"/>
<line x1="236.99" x2="324.21" y1="885.9" y2="885.9" stroke="#333333" stroke-width="4.2"/>
<circle cx="280.6" cy="984.7" r="3.6" fill="#333333"/>
<line x1="396.9" x2="396.9" y1="820.4" y2="874.8" stroke="#333333" stroke-width="2.2"/>
<line x1="396.9" x2="396.9" y1="913.7" y2="968.7" stroke="#333333" stroke-width="2.2"/>
<rect x="353.29" y="874.8" width="87.22" height="38.9" fill="#96CDCD" stroke="#333333" stroke-width="2.0"/>
<line x1="353.29" x2="440.51" y1="898.7" y2="898.7" stroke="#333333" stroke-width="4.2"/>
<circle cx="396.9" cy="979" r="3.6" fill="#333333"/>
<line x1="513.2" x2="513.2" y1="861.9" y2="905.4" stroke="#333333" stroke-width="2.2"/>
<line x1="513.2" x2="513.2" y1="943.8" y2="993" stroke="#333333" stroke-width="2.2"/>
<rect x="469.59" y="905.4" width="87.22" height="38.4" fill="#AEEEEE" stroke="#333333" stroke-width="2.0"/>
<line x1="469.59" x2="556.81" y1="923" y2="923" stroke="#333333" stroke-width="4.2"/>
<circle cx="513.2" cy="817.2" r="3.6" fill="#333333"/>
<circle cx="513.2" cy="844.2" r="3.6" fill="#333333"/>
<circle cx="513.2" cy="846" r="3.6" fill="#333333"/>
<line x1="629.5" x2="629.5" y1="876.3" y2="918.3" stroke="#333333" stroke-width="2.2"/>
<line x1="629.5" x2="629.5" y1="949.4" y2="981.6" stroke="#333333" stroke-width="2.2"/>
<rect x="585.89" y="918.3" width="87.22" height="31.1" fill="#BBFFFF" stroke="#333333" stroke-width="2.0"/>
<line x1="585.89" x2="673.11" y1="933.7" y2="933.7" stroke="#333333" stroke-width="4.2"/>
<circle cx="629.5" cy="844.1" r="3.6" fill="#333333"/>
<circle cx="629.5" cy="999.9" r="3.6" fill="#333333"/>
<circle cx="629.5" cy="1037.9" r="3.6" fill="#333333"/>
<line x1="94.5" x2="94.5" y1="672.3" y2="1138.6" stroke="#6E6E6E" stroke-width="1.1"/>
<line x1="94.5" x2="699.3" y1="1138.6" y2="1138.6" stroke="#6E6E6E" stroke-width="1.1"/>
<line x1="88.9" x2="94.5" y1="1019.3" y2="1019.3" stroke="#333333" stroke-width="2.3"/>
<line x1="88.9" x2="94.5" y1="855.85" y2="855.85" stroke="#333333" stroke-width="2.3"/>
<line x1="88.9" x2="94.5" y1="692.4" y2="692.4" stroke="#333333" stroke-width="2.3"/>
<line x1="164.3" x2="164.3" y1="1138.6" y2="1144.2" stroke="#333333" stroke-width="2.3"/>
<line x1="280.6" x2="280.6" y1="1138.6" y2="1144.2" stroke="#333333" stroke-width="2.3"/>
<line x1="396.9" x2="396.9" y1="1138.6" y2="1144.2" stroke="#333333" stroke-width="2.3"/>
<line x1="513.2" x2="513.2" y1="1138.6" y2="1144.2" stroke="#333333" stroke-width="2.3"/>
<line x1="629.5" x2="629.5" y1="1138.6" y2="1144.2" stroke="#333333" stroke-width="2.3"/>
<text x="83.9" y="1027.3" text-anchor="end" font-family="'Liberation Sans', Arial, Helvetica, sans-serif" font-size="21.4" fill="#4D4D4D">0.10</text>
<text x="83.9" y="863.85" text-anchor="end" font-family="'Liberation Sans', Arial, Helvetica, sans-serif" font-size="21.4" fill="#4D4D4D">0.15</text>
<text x="83.9" y="700.4" text-anchor="end" font-family="'Liberation Sans', Arial, Helvetica, sans-serif" font-size="21.4" fill="#4D4D4D">0.20</text>
<text x="164.3" y="1160" text-anchor="middle" font-family="'Liberation Sans', Arial, Helvetica, sans-serif" font-size="15.2" fill="#4D4D4D">Q1</text>
<text x="164.3" y="1176.2" text-anchor="middle" font-family="'Liberation Sans', Arial, Helvetica, sans-serif" font-size="15.2" fill="#4D4D4D">(MD=0.11)</text>
<text x="280.6" y="1160" text-anchor="middle" font-family="'Liberation Sans', Arial, Helvetica, sans-serif" font-size="15.2" fill="#4D4D4D">Q2</text>
<text x="280.6" y="1176.2" text-anchor="middle" font-family="'Liberation Sans', Arial, Helvetica, sans-serif" font-size="15.2" fill="#4D4D4D">(MD=0.10)</text>
<text x="396.9" y="1160" text-anchor="middle" font-family="'Liberation Sans', Arial, Helvetica, sans-serif" font-size="15.2" fill="#4D4D4D">Q3</text>
<text x="396.9" y="1176.2" text-anchor="middle" font-family="'Liberation Sans', Arial, Helvetica, sans-serif" font-size="15.2" fill="#4D4D4D">(MD=0.08)</text>
<text x="513.2" y="1160" text-anchor="middle" font-family="'Liberation Sans', Arial, Helvetica, sans-serif" font-size="15.2" fill="#4D4D4D">Q4</text>
<text x="513.2" y="1176.2" text-anchor="middle" font-family="'Liberation Sans', Arial, Helvetica, sans-serif" font-size="15.2" fill="#4D4D4D">(MD=0.05)</text>
<text x="629.5" y="1160" text-anchor="middle" font-family="'Liberation Sans', Arial, Helvetica, sans-serif" font-size="15.2" fill="#4D4D4D">Q5</text>
<text x="629.5" y="1176.2" text-anchor="middle" font-family="'Liberation Sans', Arial, Helvetica, sans-serif" font-size="15.2" fill="#4D4D4D">(MD=0.04)</text>
<text x="94.5" y="645.3" font-family="'Liberation Sans', Arial, Helvetica, sans-serif" font-size="34.3" word-spacing="1.3" fill="#000" stroke="#000" stroke-width="0.4">Plasma <tspan dx="1.6">A</tspan><tspan font-family="'Liberation Serif', serif">β</tspan>42/40</text>
<text x="396.9" y="1203.9" text-anchor="middle" font-family="'Liberation Sans', Arial, Helvetica, sans-serif" font-size="25.9" fill="#000" stroke="#000" stroke-width="0.3">CSF <tspan dx="2">A</tspan><tspan font-family="'Liberation Serif', serif">β</tspan>42/40</text>
<text transform="translate(22.8,905.45) rotate(-90)" x="0" y="0" text-anchor="middle" font-family="'Liberation Sans', Arial, Helvetica, sans-serif" font-size="30.0" fill="#000" stroke="#000" stroke-width="0.3">Plasma <tspan dx="2.5">A</tspan><tspan font-family="'Liberation Serif', serif">β</tspan>42/40</text>
<rect x="243.2" y="686.3" width="62.4" height="24.5" fill="#F2F2F2"/>
<text x="245.5" y="709.3" font-family="'Noto Sans CJK JP', 'Liberation Sans', sans-serif" font-weight="400" font-size="23.0" fill="#000" stroke="#000" stroke-width="0.35">0.025</text>
<rect x="359.6" y="686.3" width="88.1" height="24.5" fill="#F2F2F2"/>
<text x="363.9" y="709.3" font-family="'Noto Sans CJK JP', 'Liberation Sans', sans-serif" font-weight="400" font-size="23.0" fill="#000" stroke="#000" stroke-width="0.35">8.0x10<tspan dx="0.4" dy="-8.6" font-size="13.8">-6</tspan></text>
<rect x="474.6" y="686.3" width="93.2" height="24.5" fill="#F2F2F2"/>
<text x="478.9" y="709.3" font-family="'Noto Sans CJK JP', 'Liberation Sans', sans-serif" font-weight="400" font-size="23.0" fill="#000" stroke="#000" stroke-width="0.35">1.2x10<tspan dx="0.4" dy="-8.6" font-size="13.8">-25</tspan></text>
<rect x="594.3" y="686.3" width="94.4" height="24.5" fill="#F2F2F2"/>
<text x="598.6" y="709.3" font-family="'Noto Sans CJK JP', 'Liberation Sans', sans-serif" font-weight="400" font-size="23.0" fill="#000" stroke="#000" stroke-width="0.35">2.6x10<tspan dx="0.4" dy="-8.6" font-size="13.8">-37</tspan></text>
<rect x="797.6" y="663.5" width="622.5" height="474.8" fill="#F2F2F2"/>
<line x1="797.6" x2="1420.1" y1="1044.35" y2="1044.35" stroke="#FFFFFF" stroke-width="2.2"/>
<line x1="797.6" x2="1420.1" y1="900.45" y2="900.45" stroke="#FFFFFF" stroke-width="2.2"/>
<line x1="797.6" x2="1420.1" y1="756.55" y2="756.55" stroke="#FFFFFF" stroke-width="2.2"/>
<line x1="797.6" x2="1420.1" y1="1116.3" y2="1116.3" stroke="#FFFFFF" stroke-width="2.3"/>
<line x1="797.6" x2="1420.1" y1="972.4" y2="972.4" stroke="#FFFFFF" stroke-width="2.3"/>
<line x1="797.6" x2="1420.1" y1="828.5" y2="828.5" stroke="#FFFFFF" stroke-width="2.3"/>
<line x1="797.6" x2="1420.1" y1="684.6" y2="684.6" stroke="#FFFFFF" stroke-width="2.3"/>
<line x1="869.4" x2="869.4" y1="663.5" y2="1138.3" stroke="#FFFFFF" stroke-width="2.6"/>
<line x1="989.1" x2="989.1" y1="663.5" y2="1138.3" stroke="#FFFFFF" stroke-width="2.6"/>
<line x1="1108.8" x2="1108.8" y1="663.5" y2="1138.3" stroke="#FFFFFF" stroke-width="2.6"/>
<line x1="1228.5" x2="1228.5" y1="663.5" y2="1138.3" stroke="#FFFFFF" stroke-width="2.6"/>
<line x1="1348.2" x2="1348.2" y1="663.5" y2="1138.3" stroke="#FFFFFF" stroke-width="2.6"/>
<line x1="869.4" x2="869.4" y1="983" y2="1037" stroke="#333333" stroke-width="2.2"/>
<line x1="869.4" x2="869.4" y1="1075.6" y2="1102.8" stroke="#333333" stroke-width="2.2"/>
<rect x="824.51" y="1037" width="89.78" height="38.6" fill="#000000" stroke="#333333" stroke-width="2.0"/>
<line x1="824.51" x2="914.29" y1="1063.2" y2="1063.2" stroke="#333333" stroke-width="4.2"/>
<circle cx="869.4" cy="829.1" r="3.6" fill="#333333"/>
<circle cx="869.4" cy="975.1" r="3.6" fill="#333333"/>
<line x1="989.1" x2="989.1" y1="991.7" y2="1038.8" stroke="#333333" stroke-width="2.2"/>
<line x1="989.1" x2="989.1" y1="1071.5" y2="1098.3" stroke="#333333" stroke-width="2.2"/>
<rect x="944.21" y="1038.8" width="89.78" height="32.7" fill="#668B8B" stroke="#333333" stroke-width="2.0"/>
<line x1="944.21" x2="1033.99" y1="1057.7" y2="1057.7" stroke="#333333" stroke-width="4.2"/>
<circle cx="989.1" cy="892.6" r="3.6" fill="#333333"/>
<circle cx="989.1" cy="937" r="3.6" fill="#333333"/>
<circle cx="989.1" cy="950.2" r="3.6" fill="#333333"/>
<circle cx="989.1" cy="975.9" r="3.6" fill="#333333"/>
<circle cx="989.1" cy="979.8" r="3.6" fill="#333333"/>
<line x1="1108.8" x2="1108.8" y1="986.7" y2="1039.3" stroke="#333333" stroke-width="2.2"/>
<line x1="1108.8" x2="1108.8" y1="1077.7" y2="1099.8" stroke="#333333" stroke-width="2.2"/>
<rect x="1063.91" y="1039.3" width="89.78" height="38.4" fill="#96CDCD" stroke="#333333" stroke-width="2.0"/>
<line x1="1063.91" x2="1153.69" y1="1062.6" y2="1062.6" stroke="#333333" stroke-width="4.2"/>
<circle cx="1108.8" cy="869.5" r="3.6" fill="#333333"/>
<circle cx="1108.8" cy="955.5" r="3.6" fill="#333333"/>
<circle cx="1108.8" cy="962.3" r="3.6" fill="#333333"/>
<circle cx="1108.8" cy="968.3" r="3.6" fill="#333333"/>
<line x1="1228.5" x2="1228.5" y1="950.4" y2="1012.3" stroke="#333333" stroke-width="2.2"/>
<line x1="1228.5" x2="1228.5" y1="1054" y2="1091.2" stroke="#333333" stroke-width="2.2"/>
<rect x="1183.61" y="1012.3" width="89.78" height="41.7" fill="#AEEEEE" stroke="#333333" stroke-width="2.0"/>
<line x1="1183.61" x2="1273.39" y1="1030.9" y2="1030.9" stroke="#333333" stroke-width="4.2"/>
<circle cx="1228.5" cy="806.1" r="3.6" fill="#333333"/>
<circle cx="1228.5" cy="902.8" r="3.6" fill="#333333"/>
<circle cx="1228.5" cy="922.2" r="3.6" fill="#333333"/>
<circle cx="1228.5" cy="931.1" r="3.6" fill="#333333"/>
<circle cx="1228.5" cy="938.5" r="3.6" fill="#333333"/>
<circle cx="1228.5" cy="943" r="3.6" fill="#333333"/>
<circle cx="1228.5" cy="946.9" r="3.6" fill="#333333"/>
<line x1="1348.2" x2="1348.2" y1="890" y2="989.1" stroke="#333333" stroke-width="2.2"/>
<line x1="1348.2" x2="1348.2" y1="1055.9" y2="1092.3" stroke="#333333" stroke-width="2.2"/>
<rect x="1303.31" y="989.1" width="89.78" height="66.8" fill="#BBFFFF" stroke="#333333" stroke-width="2.0"/>
<line x1="1303.31" x2="1393.09" y1="1029.5" y2="1029.5" stroke="#333333" stroke-width="4.2"/>
<circle cx="1348.2" cy="776.4" r="3.6" fill="#333333"/>
<circle cx="1348.2" cy="854.6" r="3.6" fill="#333333"/>
<circle cx="1348.2" cy="856.7" r="3.6" fill="#333333"/>
<line x1="797.6" x2="797.6" y1="663.5" y2="1138.3" stroke="#6E6E6E" stroke-width="1.1"/>
<line x1="797.6" x2="1420.1" y1="1138.3" y2="1138.3" stroke="#6E6E6E" stroke-width="1.1"/>
<line x1="792" x2="797.6" y1="1116.3" y2="1116.3" stroke="#333333" stroke-width="2.3"/>
<line x1="792" x2="797.6" y1="972.4" y2="972.4" stroke="#333333" stroke-width="2.3"/>
<line x1="792" x2="797.6" y1="828.5" y2="828.5" stroke="#333333" stroke-width="2.3"/>
<line x1="792" x2="797.6" y1="684.6" y2="684.6" stroke="#333333" stroke-width="2.3"/>
<line x1="869.4" x2="869.4" y1="1138.3" y2="1143.9" stroke="#333333" stroke-width="2.3"/>
<line x1="989.1" x2="989.1" y1="1138.3" y2="1143.9" stroke="#333333" stroke-width="2.3"/>
<line x1="1108.8" x2="1108.8" y1="1138.3" y2="1143.9" stroke="#333333" stroke-width="2.3"/>
<line x1="1228.5" x2="1228.5" y1="1138.3" y2="1143.9" stroke="#333333" stroke-width="2.3"/>
<line x1="1348.2" x2="1348.2" y1="1138.3" y2="1143.9" stroke="#333333" stroke-width="2.3"/>
<text x="787" y="1124.3" text-anchor="end" font-family="'Liberation Sans', Arial, Helvetica, sans-serif" font-size="21.4" fill="#4D4D4D">0.0</text>
<text x="787" y="980.4" text-anchor="end" font-family="'Liberation Sans', Arial, Helvetica, sans-serif" font-size="21.4" fill="#4D4D4D">0.2</text>
<text x="787" y="836.5" text-anchor="end" font-family="'Liberation Sans', Arial, Helvetica, sans-serif" font-size="21.4" fill="#4D4D4D">0.4</text>
<text x="787" y="692.6" text-anchor="end" font-family="'Liberation Sans', Arial, Helvetica, sans-serif" font-size="21.4" fill="#4D4D4D">0.6</text>
<text x="869.4" y="1160" text-anchor="middle" font-family="'Liberation Sans', Arial, Helvetica, sans-serif" font-size="15.2" fill="#4D4D4D">Q1</text>
<text x="869.4" y="1176.2" text-anchor="middle" font-family="'Liberation Sans', Arial, Helvetica, sans-serif" font-size="15.2" fill="#4D4D4D">(MD=0.11)</text>
<text x="989.1" y="1160" text-anchor="middle" font-family="'Liberation Sans', Arial, Helvetica, sans-serif" font-size="15.2" fill="#4D4D4D">Q2</text>
<text x="989.1" y="1176.2" text-anchor="middle" font-family="'Liberation Sans', Arial, Helvetica, sans-serif" font-size="15.2" fill="#4D4D4D">(MD=0.10)</text>
<text x="1108.8" y="1160" text-anchor="middle" font-family="'Liberation Sans', Arial, Helvetica, sans-serif" font-size="15.2" fill="#4D4D4D">Q3</text>
<text x="1108.8" y="1176.2" text-anchor="middle" font-family="'Liberation Sans', Arial, Helvetica, sans-serif" font-size="15.2" fill="#4D4D4D">(MD=0.08)</text>
<text x="1228.5" y="1160" text-anchor="middle" font-family="'Liberation Sans', Arial, Helvetica, sans-serif" font-size="15.2" fill="#4D4D4D">Q4</text>
<text x="1228.5" y="1176.2" text-anchor="middle" font-family="'Liberation Sans', Arial, Helvetica, sans-serif" font-size="15.2" fill="#4D4D4D">(MD=0.05)</text>
<text x="1348.2" y="1160" text-anchor="middle" font-family="'Liberation Sans', Arial, Helvetica, sans-serif" font-size="15.2" fill="#4D4D4D">Q5</text>
<text x="1348.2" y="1176.2" text-anchor="middle" font-family="'Liberation Sans', Arial, Helvetica, sans-serif" font-size="15.2" fill="#4D4D4D">(MD=0.04)</text>
<text x="797.6" y="644.6" font-family="'Liberation Sans', Arial, Helvetica, sans-serif" font-size="34.3" word-spacing="1.3" fill="#000" stroke="#000" stroke-width="0.4">Plasma GFAP</text>
<text x="1108.85" y="1203.9" text-anchor="middle" font-family="'Liberation Sans', Arial, Helvetica, sans-serif" font-size="25.9" fill="#000" stroke="#000" stroke-width="0.3">CSF <tspan dx="2">A</tspan><tspan font-family="'Liberation Serif', serif">β</tspan>42/40</text>
<text transform="translate(744.3,900.9) rotate(-90)" x="0" y="0" text-anchor="middle" font-family="'Liberation Sans', Arial, Helvetica, sans-serif" font-size="30.0" fill="#000" stroke="#000" stroke-width="0.3">Plasma GFAP, ng/ml</text>
<rect x="1192.4" y="686.6" width="85.9" height="24.5" fill="#F2F2F2"/>
<text x="1196.7" y="709.6" font-family="'Noto Sans CJK JP', 'Liberation Sans', sans-serif" font-weight="400" font-size="23.0" fill="#000" stroke="#000" stroke-width="0.35">1.7x10<tspan dx="0.4" dy="-8.6" font-size="13.8">-7</tspan></text>
<rect x="1312.6" y="686.6" width="87.1" height="24.5" fill="#F2F2F2"/>
<text x="1316.9" y="709.6" font-family="'Noto Sans CJK JP', 'Liberation Sans', sans-serif" font-weight="400" font-size="23.0" fill="#000" stroke="#000" stroke-width="0.35">3.1x10<tspan dx="0.4" dy="-8.6" font-size="13.8">-9</tspan></text>
<rect x="1513.6" y="664.3" width="630.4" height="474.1" fill="#F2F2F2"/>
<line x1="1513.6" x2="2144" y1="1045.22" y2="1045.22" stroke="#FFFFFF" stroke-width="2.2"/>
<line x1="1513.6" x2="2144" y1="901.05" y2="901.05" stroke="#FFFFFF" stroke-width="2.2"/>
<line x1="1513.6" x2="2144" y1="756.88" y2="756.88" stroke="#FFFFFF" stroke-width="2.2"/>
<line x1="1513.6" x2="2144" y1="1117.3" y2="1117.3" stroke="#FFFFFF" stroke-width="2.3"/>
<line x1="1513.6" x2="2144" y1="973.13" y2="973.13" stroke="#FFFFFF" stroke-width="2.3"/>
<line x1="1513.6" x2="2144" y1="828.97" y2="828.97" stroke="#FFFFFF" stroke-width="2.3"/>
<line x1="1513.6" x2="2144" y1="684.8" y2="684.8" stroke="#FFFFFF" stroke-width="2.3"/>
<line x1="1586.4" x2="1586.4" y1="664.3" y2="1138.4" stroke="#FFFFFF" stroke-width="2.6"/>
<line x1="1707.6" x2="1707.6" y1="664.3" y2="1138.4" stroke="#FFFFFF" stroke-width="2.6"/>
<line x1="1828.8" x2="1828.8" y1="664.3" y2="1138.4" stroke="#FFFFFF" stroke-width="2.6"/>
<line x1="1950" x2="1950" y1="664.3" y2="1138.4" stroke="#FFFFFF" stroke-width="2.6"/>
<line x1="2071.2" x2="2071.2" y1="664.3" y2="1138.4" stroke="#FFFFFF" stroke-width="2.6"/>
<line x1="1586.4" x2="1586.4" y1="955.1" y2="1021" stroke="#333333" stroke-width="2.2"/>
<line x1="1586.4" x2="1586.4" y1="1069.4" y2="1106.1" stroke="#333333" stroke-width="2.2"/>
<rect x="1540.95" y="1021" width="90.9" height="48.4" fill="#000000" stroke="#333333" stroke-width="2.0"/>
<line x1="1540.95" x2="1631.85" y1="1052.1" y2="1052.1" stroke="#333333" stroke-width="4.2"/>
<circle cx="1586.4" cy="853.4" r="3.6" fill="#333333"/>
<circle cx="1586.4" cy="927.4" r="3.6" fill="#333333"/>
<line x1="1707.6" x2="1707.6" y1="937.8" y2="1012.9" stroke="#333333" stroke-width="2.2"/>
<line x1="1707.6" x2="1707.6" y1="1066.5" y2="1101.6" stroke="#333333" stroke-width="2.2"/>
<rect x="1662.15" y="1012.9" width="90.9" height="53.6" fill="#668B8B" stroke="#333333" stroke-width="2.0"/>
<line x1="1662.15" x2="1753.05" y1="1047" y2="1047" stroke="#333333" stroke-width="4.2"/>
<circle cx="1707.6" cy="718.4" r="3.6" fill="#333333"/>
<circle cx="1707.6" cy="742" r="3.6" fill="#333333"/>
<circle cx="1707.6" cy="784" r="3.6" fill="#333333"/>
<circle cx="1707.6" cy="862.1" r="3.6" fill="#333333"/>
<circle cx="1707.6" cy="868" r="3.6" fill="#333333"/>
<circle cx="1707.6" cy="873.6" r="3.6" fill="#333333"/>
<circle cx="1707.6" cy="910.7" r="3.6" fill="#333333"/>
<line x1="1828.8" x2="1828.8" y1="994.3" y2="1029.3" stroke="#333333" stroke-width="2.2"/>
<line x1="1828.8" x2="1828.8" y1="1074.2" y2="1099.2" stroke="#333333" stroke-width="2.2"/>
<rect x="1783.35" y="1029.3" width="90.9" height="44.9" fill="#96CDCD" stroke="#333333" stroke-width="2.0"/>
<line x1="1783.35" x2="1874.25" y1="1052.1" y2="1052.1" stroke="#333333" stroke-width="4.2"/>
<circle cx="1828.8" cy="860.7" r="3.6" fill="#333333"/>
<circle cx="1828.8" cy="879.8" r="3.6" fill="#333333"/>
<circle cx="1828.8" cy="931.5" r="3.6" fill="#333333"/>
<circle cx="1828.8" cy="946.4" r="3.6" fill="#333333"/>
<circle cx="1828.8" cy="952.7" r="3.6" fill="#333333"/>
<line x1="1950" x2="1950" y1="950.6" y2="1012.9" stroke="#333333" stroke-width="2.2"/>
<line x1="1950" x2="1950" y1="1058.8" y2="1099.2" stroke="#333333" stroke-width="2.2"/>
<rect x="1904.55" y="1012.9" width="90.9" height="45.9" fill="#AEEEEE" stroke="#333333" stroke-width="2.0"/>
<line x1="1904.55" x2="1995.45" y1="1038" y2="1038" stroke="#333333" stroke-width="4.2"/>
<circle cx="1950" cy="744.4" r="3.6" fill="#333333"/>
<circle cx="1950" cy="784.3" r="3.6" fill="#333333"/>
<circle cx="1950" cy="895.4" r="3.6" fill="#333333"/>
<circle cx="1950" cy="899.6" r="3.6" fill="#333333"/>
<circle cx="1950" cy="915.2" r="3.6" fill="#333333"/>
<circle cx="1950" cy="921.1" r="3.6" fill="#333333"/>
<circle cx="1950" cy="938.1" r="3.6" fill="#333333"/>
<line x1="2071.2" x2="2071.2" y1="961" y2="1013.2" stroke="#333333" stroke-width="2.2"/>
<line x1="2071.2" x2="2071.2" y1="1053.5" y2="1098.5" stroke="#333333" stroke-width="2.2"/>
<rect x="2025.75" y="1013.2" width="90.9" height="40.3" fill="#BBFFFF" stroke="#333333" stroke-width="2.0"/>
<line x1="2025.75" x2="2116.65" y1="1035.2" y2="1035.2" stroke="#333333" stroke-width="4.2"/>
<circle cx="2071.2" cy="806.6" r="3.6" fill="#333333"/>
<circle cx="2071.2" cy="833.6" r="3.6" fill="#333333"/>
<circle cx="2071.2" cy="921.1" r="3.6" fill="#333333"/>
<circle cx="2071.2" cy="937.8" r="3.6" fill="#333333"/>
<circle cx="2071.2" cy="941.2" r="3.6" fill="#333333"/>
<circle cx="2071.2" cy="945.7" r="3.6" fill="#333333"/>
<line x1="1513.6" x2="1513.6" y1="664.3" y2="1138.4" stroke="#6E6E6E" stroke-width="1.1"/>
<line x1="1513.6" x2="2144" y1="1138.4" y2="1138.4" stroke="#6E6E6E" stroke-width="1.1"/>
<line x1="1508" x2="1513.6" y1="1117.3" y2="1117.3" stroke="#333333" stroke-width="2.3"/>
<line x1="1508" x2="1513.6" y1="973.13" y2="973.13" stroke="#333333" stroke-width="2.3"/>
<line x1="1508" x2="1513.6" y1="828.97" y2="828.97" stroke="#333333" stroke-width="2.3"/>
<line x1="1508" x2="1513.6" y1="684.8" y2="684.8" stroke="#333333" stroke-width="2.3"/>
<line x1="1586.4" x2="1586.4" y1="1138.4" y2="1144" stroke="#333333" stroke-width="2.3"/>
<line x1="1707.6" x2="1707.6" y1="1138.4" y2="1144" stroke="#333333" stroke-width="2.3"/>
<line x1="1828.8" x2="1828.8" y1="1138.4" y2="1144" stroke="#333333" stroke-width="2.3"/>
<line x1="1950" x2="1950" y1="1138.4" y2="1144" stroke="#333333" stroke-width="2.3"/>
<line x1="2071.2" x2="2071.2" y1="1138.4" y2="1144" stroke="#333333" stroke-width="2.3"/>
<text x="1503" y="1125.3" text-anchor="end" font-family="'Liberation Sans', Arial, Helvetica, sans-serif" font-size="21.4" fill="#4D4D4D">0</text>
<text x="1503" y="981.13" text-anchor="end" font-family="'Liberation Sans', Arial, Helvetica, sans-serif" font-size="21.4" fill="#4D4D4D">5</text>
<text x="1503" y="836.97" text-anchor="end" font-family="'Liberation Sans', Arial, Helvetica, sans-serif" font-size="21.4" fill="#4D4D4D">10</text>
<text x="1503" y="692.8" text-anchor="end" font-family="'Liberation Sans', Arial, Helvetica, sans-serif" font-size="21.4" fill="#4D4D4D">15</text>
<text x="1586.4" y="1160" text-anchor="middle" font-family="'Liberation Sans', Arial, Helvetica, sans-serif" font-size="15.2" fill="#4D4D4D">Q1</text>
<text x="1586.4" y="1176.2" text-anchor="middle" font-family="'Liberation Sans', Arial, Helvetica, sans-serif" font-size="15.2" fill="#4D4D4D">(MD=0.11)</text>
<text x="1707.6" y="1160" text-anchor="middle" font-family="'Liberation Sans', Arial, Helvetica, sans-serif" font-size="15.2" fill="#4D4D4D">Q2</text>
<text x="1707.6" y="1176.2" text-anchor="middle" font-family="'Liberation Sans', Arial, Helvetica, sans-serif" font-size="15.2" fill="#4D4D4D">(MD=0.10)</text>
<text x="1828.8" y="1160" text-anchor="middle" font-family="'Liberation Sans', Arial, Helvetica, sans-serif" font-size="15.2" fill="#4D4D4D">Q3</text>
<text x="1828.8" y="1176.2" text-anchor="middle" font-family="'Liberation Sans', Arial, Helvetica, sans-serif" font-size="15.2" fill="#4D4D4D">(MD=0.08)</text>
<text x="1950" y="1160" text-anchor="middle" font-family="'Liberation Sans', Arial, Helvetica, sans-serif" font-size="15.2" fill="#4D4D4D">Q4</text>
<text x="1950" y="1176.2" text-anchor="middle" font-family="'Liberation Sans', Arial, Helvetica, sans-serif" font-size="15.2" fill="#4D4D4D">(MD=0.05)</text>
<text x="2071.2" y="1160" text-anchor="middle" font-family="'Liberation Sans', Arial, Helvetica, sans-serif" font-size="15.2" fill="#4D4D4D">Q5</text>
<text x="2071.2" y="1176.2" text-anchor="middle" font-family="'Liberation Sans', Arial, Helvetica, sans-serif" font-size="15.2" fill="#4D4D4D">(MD=0.04)</text>
<text x="1513.6" y="644.4" font-family="'Liberation Sans', Arial, Helvetica, sans-serif" font-size="34.3" word-spacing="1.3" fill="#000" stroke="#000" stroke-width="0.4">Plasma NfL</text>
<text x="1828.8" y="1203.9" text-anchor="middle" font-family="'Liberation Sans', Arial, Helvetica, sans-serif" font-size="25.9" fill="#000" stroke="#000" stroke-width="0.3">CSF <tspan dx="2">A</tspan><tspan font-family="'Liberation Serif', serif">β</tspan>42/40</text>
<text transform="translate(1467,901.35) rotate(-90)" x="0" y="0" text-anchor="middle" font-family="'Liberation Sans', Arial, Helvetica, sans-serif" font-size="30.0" fill="#000" stroke="#000" stroke-width="0.3">Plasma NfL, pg/ml</text>
<rect x="2036.8" y="685.6" width="62.4" height="24.5" fill="#F2F2F2"/>
<text x="2039.1" y="708.6" font-family="'Noto Sans CJK JP', 'Liberation Sans', sans-serif" font-weight="400" font-size="23.0" fill="#000" stroke="#000" stroke-width="0.35">0.005</text>
</svg>
</body></html>
